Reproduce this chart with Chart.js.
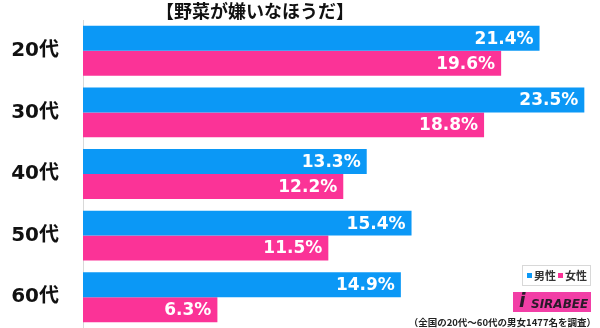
<!DOCTYPE html>
<html lang="ja">
<head>
    <meta charset="UTF-8">
    <title>野菜が嫌いなほうだ</title>
    <script src="https://cdn.jsdelivr.net/npm/chart.js"></script>
    <style>
        html, body { margin: 0; padding: 0; background: #fff; }
        #wrap { width: 600px; height: 328px; position: relative; }
    </style>
</head>
<body>
    <div id="wrap"><canvas id="chart"></canvas></div>

    <script>
        const ageGroups = ['20代', '30代', '40代', '50代', '60代'];
        const maleValues = [21.4, 23.5, 13.3, 15.4, 14.9];
        const femaleValues = [19.6, 18.8, 12.2, 11.5, 6.3];
        const seriesNames = ['男性', '女性'];
        const chartTitle = '【野菜が嫌いなほうだ】';
        const footnote = '（全国の20代～60代の男女1477名を調査）';

        const BLUE = '#0b98f6';
        const PINK = '#fb3397';
        const LABEL_FONT = '"DejaVu Sans", "Noto Sans CJK JP", sans-serif';
        const JP_FONT = '"Noto Sans CJK JP", sans-serif';

        // white percentage text at the right end of each bar
        const valueLabels = {
            id: 'valueLabels',
            afterDatasetsDraw(chart) {
                const ctx = chart.ctx;
                ctx.save();
                ctx.fillStyle = '#fff';
                ctx.font = 'bold 17px ' + LABEL_FONT;
                ctx.textAlign = 'right';
                ctx.textBaseline = 'middle';
                chart.data.datasets.forEach((ds, i) => {
                    chart.getDatasetMeta(i).data.forEach((bar, j) => {
                        ctx.fillText(ds.data[j].toFixed(1) + '%', bar.x - 6, bar.y + 1);
                    });
                });
                ctx.restore();
            }
        };

        // title, legend box, logo and survey note
        const decorations = {
            id: 'decorations',
            afterDraw(chart) {
                const ctx = chart.ctx;
                ctx.save();

                ctx.fillStyle = '#111';
                ctx.font = 'bold 18px ' + JP_FONT;
                ctx.textAlign = 'center';
                ctx.textBaseline = 'middle';
                ctx.fillText(chartTitle, 255, 11);

                // legend
                ctx.fillStyle = '#fff';
                ctx.fillRect(522, 265, 68, 20);
                ctx.strokeStyle = '#d8d8d8';
                ctx.lineWidth = 1;
                ctx.strokeRect(522.5, 265.5, 68, 20);
                ctx.font = 'bold 11px ' + JP_FONT;
                ctx.textAlign = 'left';
                const colors = [BLUE, PINK];
                const xs = [527, 558];
                seriesNames.forEach((name, i) => {
                    ctx.fillStyle = colors[i];
                    ctx.fillRect(xs[i], 273, 5, 5);
                    ctx.fillStyle = '#333';
                    ctx.fillText(name, xs[i] + 7, 276);
                });

                // logo
                ctx.fillStyle = '#f23ea6';
                ctx.fillRect(513, 292, 78, 20);
                ctx.fillStyle = '#2a1a2a';
                ctx.font = 'italic bold 19px "DejaVu Sans", sans-serif';
                ctx.fillText('i', 519, 302);
                ctx.font = 'italic bold 12px "DejaVu Sans", sans-serif';
                ctx.fillText('SIRABEE', 531, 305);

                ctx.fillStyle = '#222';
                ctx.font = 'bold 9.5px ' + JP_FONT;
                ctx.textAlign = 'right';
                ctx.fillText(footnote, 596, 322);

                ctx.restore();
            }
        };

        new Chart(document.getElementById('chart'), {
            type: 'bar',
            data: {
                labels: ageGroups,
                datasets: [
                    { label: seriesNames[0], data: maleValues, backgroundColor: BLUE },
                    { label: seriesNames[1], data: femaleValues, backgroundColor: PINK }
                ]
            },
            options: {
                indexAxis: 'y',
                responsive: true,
                maintainAspectRatio: false,
                animation: false,
                layout: { padding: { top: 20, right: 5, bottom: 0, left: 0 } },
                datasets: {
                    bar: { categoryPercentage: 0.81, barPercentage: 1.0, borderWidth: 0 }
                },
                scales: {
                    x: {
                        display: false,
                        min: 0,
                        max: 24
                    },
                    y: {
                        grid: { display: false, drawTicks: false },
                        border: { display: true, color: '#d9d9d9', width: 1 },
                        ticks: {
                            color: '#111',
                            padding: 24,
                            font: { family: LABEL_FONT, size: 20, weight: 'bold' }
                        },
                        afterFit(scale) {
                            scale.width = 83;
                            // the tick padding should not shrink the plot vertically
                            scale.paddingTop = 0;
                            scale.paddingBottom = 0;
                        }
                    }
                },
                plugins: {
                    legend: { display: false },
                    title: { display: false },
                    tooltip: { enabled: false }
                }
            },
            plugins: [valueLabels, decorations]
        });
    </script>
</body>
</html>
